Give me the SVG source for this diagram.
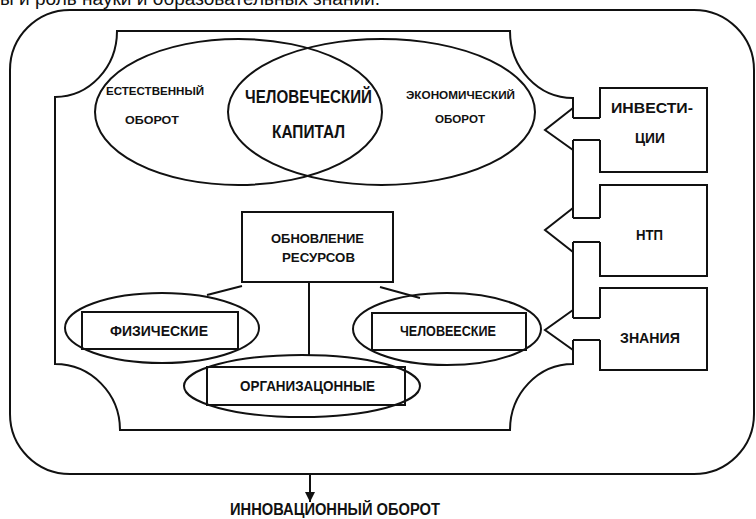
<svg xmlns="http://www.w3.org/2000/svg" width="756" height="519" viewBox="0 0 756 519">
<style>
.ln{fill:none;stroke:#111;stroke-width:2;stroke-linejoin:miter}
.el{fill:none;stroke:#111;stroke-width:2}
.t{font-family:"Liberation Sans Narrow","Liberation Sans",Arial,sans-serif;font-weight:bold;fill:#111;text-anchor:start}
.s11{font-size:11px}.s13{font-size:13px}.s14{font-size:14px}.s15{font-size:15px}.s16{font-size:16px}.s17{font-size:18px}
</style>
<defs>
<marker id="ah" viewBox="0 0 10 10" refX="10" refY="5" markerWidth="10" markerHeight="10" markerUnits="userSpaceOnUse" orient="auto"><path d="M0,0 L10,5 L0,10 Z" fill="#111"/></marker>
</defs>
<rect width="756" height="519" fill="#fff"/>
<text x="0" y="5" font-family="Liberation Sans,Arial,sans-serif" font-size="19" fill="#111" textLength="380" lengthAdjust="spacingAndGlyphs">ы и роль науки и образовательных знаний.</text>
<g id="outer"><rect class="ln" x="10" y="10" width="744" height="464" rx="60" ry="60"/></g>
<g id="frame"><path class="ln" d="M573,340 V364 A63,66 0 0 0 510,430 H120 A65,66 0 0 0 55,364 V97 A62,66 0 0 0 117,31 H510 A63,67 0 0 0 573,98 V118 M573,140 V218 M573,242 V318"/></g>
<g id="estestvenny"><ellipse class="el" cx="238.5" cy="112" rx="143.5" ry="73"/>
<text class="t s11" x="106" y="95" textLength="98" lengthAdjust="spacingAndGlyphs">ЕСТЕСТВЕННЫЙ</text>
<text class="t s11" x="125" y="124" textLength="54" lengthAdjust="spacingAndGlyphs">ОБОРОТ</text></g>
<g id="economichesky"><ellipse class="el" cx="381.5" cy="112" rx="153.5" ry="73"/>
<text class="t s11" x="406" y="99" textLength="109" lengthAdjust="spacingAndGlyphs">ЭКОНОМИЧЕСКИЙ</text>
<text class="t s11" x="435" y="123" textLength="50" lengthAdjust="spacingAndGlyphs">ОБОРОТ</text></g>
<g id="kapital">
<text class="t s17" x="245" y="103" textLength="127" lengthAdjust="spacingAndGlyphs">ЧЕЛОВЕЧЕСКИЙ</text>
<text class="t s17" x="272" y="138" textLength="73" lengthAdjust="spacingAndGlyphs">КАПИТАЛ</text></g>
<g id="obnovlenie"><rect class="ln" x="242" y="212" width="151" height="70"/>
<text class="t s13" x="271" y="243" textLength="93" lengthAdjust="spacingAndGlyphs">ОБНОВЛЕНИЕ</text>
<text class="t s13" x="282" y="262" textLength="73" lengthAdjust="spacingAndGlyphs">РЕСУРСОВ</text></g>
<g id="fizicheskie"><ellipse class="el" cx="162" cy="328" rx="97" ry="35"/><rect class="ln" x="82" y="312" width="156" height="37"/>
<text class="t s14" x="110" y="336" textLength="98" lengthAdjust="spacingAndGlyphs">ФИЗИЧЕСКИЕ</text></g>
<g id="chelovecheskie"><ellipse class="el" cx="447" cy="329" rx="94" ry="36"/><rect class="ln" x="372" y="313" width="154" height="37"/>
<text class="t s14" x="400" y="336" textLength="96" lengthAdjust="spacingAndGlyphs">ЧЕЛОВЕЕСКИЕ</text></g>
<g id="organizacionnye"><ellipse class="el" cx="302" cy="386" rx="118" ry="31"/><rect class="ln" x="207" y="367" width="198" height="38"/>
<text class="t s14" x="240" y="391" textLength="135" lengthAdjust="spacingAndGlyphs">ОРГАНИЗАЦОННЫЕ</text></g>
<g id="investicii"><path class="ln" d="M600,118 V88 H707 V172 H600 V140"/>
<text class="t s15" x="611" y="113" textLength="82" lengthAdjust="spacingAndGlyphs">ИНВЕСТИ-</text>
<text class="t s15" x="635" y="143" textLength="30" lengthAdjust="spacingAndGlyphs">ЦИИ</text></g>
<g id="ntp"><path class="ln" d="M600,218 V185 H707 V276 H600 V242"/>
<text class="t s15" x="636" y="240" textLength="27" lengthAdjust="spacingAndGlyphs">НТП</text></g>
<g id="znaniya"><path class="ln" d="M600,318 V288 H707 V370 H600 V340"/>
<text class="t s15" x="620" y="343" textLength="60" lengthAdjust="spacingAndGlyphs">ЗНАНИЯ</text></g>
<g id="connectors">
<path class="ln" d="M573,118 H600 M573,140 H600 M573,218 H600 M573,242 H600 M573,318 H600 M573,340 H600"/>
<path class="ln" d="M573,108 L545,130 L573,150 M573,208 L545,230 L573,252 M573,310 L545,330 L573,350"/>
<path class="ln" d="M242,286 L207,295 M309,282 V355 M380,287 L420,298"/>
<line class="ln" x1="310" y1="474" x2="310" y2="502" marker-end="url(#ah)"/>
</g>
<text class="t s16" x="230" y="515" textLength="210" lengthAdjust="spacingAndGlyphs">ИННОВАЦИОННЫЙ ОБОРОТ</text>
</svg>
